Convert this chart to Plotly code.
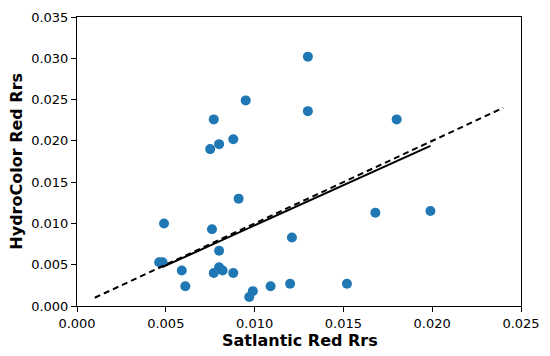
import plotly.graph_objects as go

satlantic = [0.0130, 0.0095, 0.0077, 0.0130, 0.0088, 0.0080, 0.0075, 0.0180,
             0.0091, 0.0049, 0.0076, 0.0121, 0.0080, 0.00463, 0.00482, 0.0059,
             0.0080, 0.0082, 0.0077, 0.0088, 0.0061, 0.0109, 0.0120, 0.0099,
             0.0097, 0.0168, 0.0199, 0.0152]
hydrocolor = [0.0302, 0.0249, 0.0226, 0.0236, 0.0202, 0.0196, 0.0190, 0.0226,
              0.0130, 0.0100, 0.0093, 0.0083, 0.0067, 0.0053, 0.0053, 0.0043,
              0.0047, 0.0043, 0.0040, 0.0040, 0.0024, 0.0024, 0.0027, 0.0018,
              0.0011, 0.0113, 0.0115, 0.0027]

one_to_one_x = [0.001, 0.024]
one_to_one_y = [0.001, 0.024]
fit_x = [0.0048, 0.0199]
fit_y = [0.0047, 0.0194]

xticks = [0.000, 0.005, 0.010, 0.015, 0.020, 0.025]
yticks = [0.000, 0.005, 0.010, 0.015, 0.020, 0.025, 0.030, 0.035]

fig = go.Figure()
fig.add_trace(go.Scatter(x=satlantic, y=hydrocolor, mode="markers",
                         marker=dict(color="#1f77b4", size=10), showlegend=False))
fig.add_trace(go.Scatter(x=fit_x, y=fit_y, mode="lines",
                         line=dict(color="black", width=2), showlegend=False))
fig.add_trace(go.Scatter(x=one_to_one_x, y=one_to_one_y, mode="lines",
                         line=dict(color="black", width=2, dash="6px,4px"), showlegend=False))

axis_common = dict(showgrid=False, zeroline=False, showline=True, linecolor="black",
                   linewidth=1, mirror=True, ticks="outside", ticklen=5,
                   tickcolor="black", tickwidth=1, automargin=False,
                   tickfont=dict(family="DejaVu Sans", size=13, color="black"))

fig.update_xaxes(range=[0, 0.025], tickvals=xticks,
                 ticktext=[f"{v:.3f}" for v in xticks], **axis_common)
fig.update_yaxes(range=[0, 0.035], tickvals=yticks,
                 ticktext=[f"{v:.3f}" for v in yticks], **axis_common)

title_font = dict(family="DejaVu Sans", size=16, color="black")
fig.add_annotation(text="<b>Satlantic Red Rrs</b>", xref="paper", yref="paper",
                   x=0.503, y=-0.121, xanchor="center", yanchor="middle",
                   showarrow=False, font=title_font)
fig.add_annotation(text="<b>HydroColor Red Rrs</b>", xref="paper", yref="paper",
                   x=-0.137, y=0.5, xanchor="center", yanchor="middle",
                   textangle=-90, showarrow=False, font=title_font)

# page body has an 8px default margin, so the figure is offset by 8px
fig.update_layout(width=542, height=348, margin=dict(l=69, r=29, t=9, b=50),
                  plot_bgcolor="white", paper_bgcolor="white")
fig.write_html("out.html")
